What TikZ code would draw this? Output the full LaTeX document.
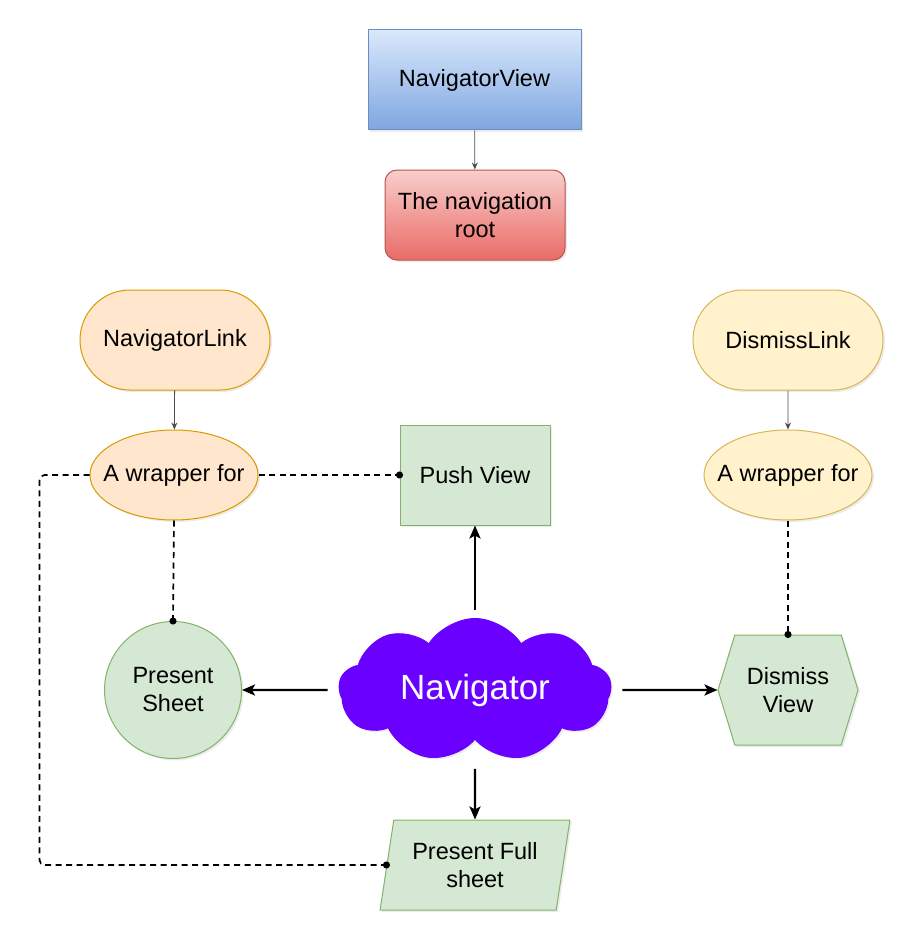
\documentclass[tikz,border=0pt]{standalone}
\usepackage{fontspec}
\setmainfont{Liberation Sans}
\usetikzlibrary{arrows.meta,shapes.geometric,shapes.misc,shapes.symbols,shadows}
\definecolor{bluetop}{HTML}{DAE8FC}
\definecolor{bluebot}{HTML}{7EA6E0}
\definecolor{blueline}{HTML}{6C8EBF}
\definecolor{redtop}{HTML}{F8CECC}
\definecolor{redbot}{HTML}{EA6B66}
\definecolor{redline}{HTML}{B85450}
\definecolor{orfill}{HTML}{FFE6CC}
\definecolor{orline}{HTML}{D79B00}
\definecolor{yefill}{HTML}{FFF2CC}
\definecolor{yeline}{HTML}{D6B656}
\definecolor{grfill}{HTML}{D5E8D4}
\definecolor{grline}{HTML}{82B366}
\definecolor{navfill}{HTML}{6A00FF}

\begin{document}
\begin{tikzpicture}[x=1pt,y=-1pt,
  font=\fontsize{23.5}{28}\selectfont,
  base/.style={draw,line width=1pt,align=center,inner sep=2pt,
    drop shadow={shadow xshift=2pt,shadow yshift=-2pt,opacity=.15}},
  greenbox/.style={base,fill=grfill,draw=grline},
  linkbox/.style={base,rounded rectangle,minimum width=194pt,minimum height=100pt},
  wrapbox/.style={base,ellipse,minimum width=168pt,minimum height=90pt,inner sep=0pt},
  thinarrow/.style={-{Stealth[length=7pt,width=6pt]},line width=0.8pt,draw=black!70},
  heavyarrow/.style={-{Stealth[length=13pt,width=11pt,inset=3pt]},line width=2.4pt},
  link/.style={dash pattern=on 6pt off 4.5pt,line width=1.7pt,
    -{Circle[length=7pt]},shorten >=-3.5pt},
]
\useasboundingbox (0,0) rectangle (921,947);

% top part
\node(view) at (474.5,80)[base,draw=blueline,top color=bluetop,bottom color=bluebot,
  minimum width=213pt,minimum height=100pt] {NavigatorView};
\node(root) at (475,215)[base,draw=redline,top color=redtop,bottom color=redbot,
  rounded corners=12pt,minimum width=180pt,minimum height=90pt] {The navigation\\root};
\draw[thinarrow] (view) -- (root);

% links
\node(navlink) at (175,340)[linkbox,fill=orfill,draw=orline] {NavigatorLink};
\node(wrapL) at (174,475)[wrapbox,fill=orfill,draw=orline] {\makebox[0pt]{A wrapper for}};
\node(dismisslink) at (788,340)[linkbox,fill=yefill,draw=yeline] {DismissLink};
\node(wrapR) at (788,475)[wrapbox,fill=yefill,draw=yeline] {\makebox[0pt]{A wrapper for}};
\draw[thinarrow] (navlink) -- (wrapL);
\draw[thinarrow] (dismisslink) -- (wrapR);

% navigator and its targets
\node(nav) at (475,690)[base,cloud,cloud puffs=9,cloud puff arc=115,aspect=2,
  fill=navfill,draw=navfill,text=white,font=\fontsize{35}{40}\selectfont,
  minimum width=272pt,minimum height=142pt] {Navigator};
\node(push) at (475,475)[greenbox,minimum width=150pt,minimum height=100pt] {Push View};
\node(sheet) at (173,690)[greenbox,circle,minimum size=137pt] {Present\\Sheet};
\node(dismiss) at (788,690)[greenbox,signal,signal to=west and east,signal pointer angle=146,
  minimum width=140pt,minimum height=110pt] {Dismiss\\View};
\node(full) at (475,865)[greenbox,trapezium,trapezium stretches=true,
  trapezium left angle=77.5,trapezium right angle=102.5,
  minimum width=190pt,minimum height=90pt] {Present Full\\sheet};

\draw[heavyarrow,shorten <=8pt] (nav) -- (push);
\draw[heavyarrow,shorten <=11pt] (nav) -- (sheet);
\draw[heavyarrow,shorten <=11pt] (nav) -- (dismiss);
\draw[heavyarrow,shorten <=29pt] (nav) -- (full);

% dashed relations
\draw[link] (wrapL.east) -- (push.west);
\draw[link] (wrapL.south) -- (sheet.north);
\draw[link] (wrapR.south) -- (dismiss.north);
\draw[link,rounded corners=5pt] (wrapL.west) -- ++(-50,0) |- (full.left side);
\end{tikzpicture}
\end{document}
